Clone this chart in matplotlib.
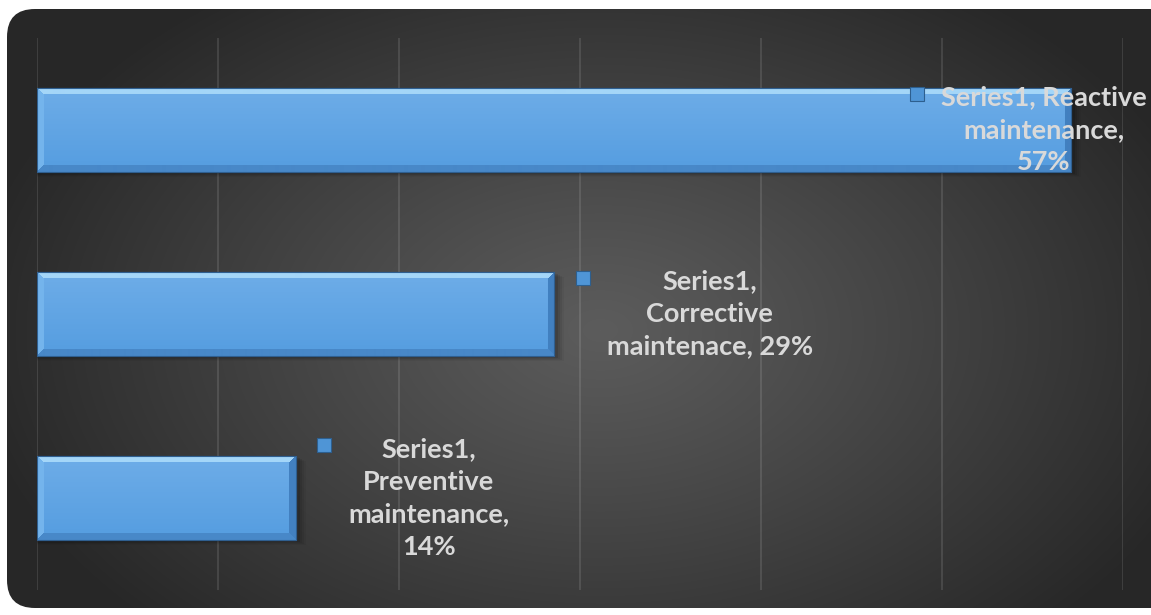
import numpy as np
import matplotlib.pyplot as plt
from matplotlib.patches import FancyBboxPatch

categories = ["Preventive\nmaintenance", "Corrective\nmaintenace", "Reactive\nmaintenance"]
shares = [0.1429, 0.2857, 0.5714]
series_name = "Series1"
label_texts = [
    "Series1,\nPreventive\nmaintenance,\n14%",
    "Series1,\nCorrective\nmaintenace, 29%",
    "Series1, Reactive\nmaintenance,\n57%",
]
# horizontal offset (points) of each label centre from the end of its bar
label_dx = [96, 112, -20]

W, H, DPI = 1151, 615, 100
fig = plt.figure(figsize=(W / DPI, H / DPI), dpi=DPI)
fig.patch.set_facecolor("white")

# rounded dark panel with a soft radial glow
bg = fig.add_axes([0, 0, 1, 1])
bg.set_xlim(0, W)
bg.set_ylim(H, 0)
bg.axis("off")
yy, xx = np.mgrid[0:H, 0:W]
r = np.sqrt(((xx - 600) / 640.0) ** 2 + ((yy - 330) / 420.0) ** 2)
shade = 0x5c - (0x5c - 0x27) * np.clip(r, 0, 1) ** 1.1
img = np.dstack([shade / 255.0] * 3)
panel = FancyBboxPatch((7 + 28, 9 + 28), W + 20 - 56, 599 - 56,
                       boxstyle="round,pad=28", facecolor="none", edgecolor="none")
bg.add_patch(panel)
im = bg.imshow(img, extent=(0, W, H, 0), interpolation="bilinear")
im.set_clip_path(panel)

ax = fig.add_axes([37 / W, 1 - 590 / H, (1123 - 37) / W, (590 - 38) / H])
ax.patch.set_alpha(0)
ax.set_xlim(0, 0.6)
ax.set_ylim(-0.5, 2.5)
for s in ax.spines.values():
    s.set_visible(False)
ax.set_xticks(np.arange(0, 0.61, 0.1))
ax.set_yticks([])
ax.tick_params(length=0, labelbottom=False)
ax.grid(axis="x", color="white", alpha=0.13, linewidth=1.2)
ax.set_axisbelow(True)

ypos = np.arange(len(categories))
bar_h = 0.46
bars = ax.barh(ypos, shares, height=bar_h, color="#5aa0e2",
               edgecolor="#2f5f90", linewidth=0.8, zorder=2)

px_per_x = (1123 - 37) / 0.6
px_per_y = (590 - 38) / 3.0


def bevel_image(wpx, hpx, b=7):
    yy, xx = np.mgrid[0:hpx, 0:wpx].astype(float)
    top = yy
    bot = hpx - 1 - yy
    left = xx
    right = wpx - 1 - xx
    face_top = np.array([0x6e, 0xad, 0xe8]) / 255.0
    face_bot = np.array([0x55, 0x9d, 0xe0]) / 255.0
    t = (yy / max(hpx - 1, 1))[..., None]
    out = face_top * (1 - t) + face_bot * t
    d = np.stack([top, bot, left, right])
    which = np.argmin(d, axis=0)
    near = np.min(d, axis=0) < b
    cols = [np.array([0xa4, 0xd6, 0xf8]) / 255.0,
            np.array([0x48, 0x88, 0xc8]) / 255.0,
            np.array([0x74, 0xb4, 0xec]) / 255.0,
            np.array([0x42, 0x80, 0xc0]) / 255.0]
    for k in range(4):
        m = near & (which == k)
        out[m] = cols[k]
    return out


for y, v, bar in zip(ypos, shares, bars):
    wpx = int(round(v * px_per_x))
    hpx = int(round(bar_h * px_per_y))
    # drop shadow under the bar
    for i, a in enumerate([0.10, 0.08, 0.06, 0.04]):
        off = (i + 2) / px_per_y
        ax.barh(y - off, v + 2 * off * px_per_y / px_per_x, height=bar_h,
                color="black", alpha=a, linewidth=0, zorder=1)
    bimg = ax.imshow(bevel_image(wpx, hpx),
                     extent=(0, v, y - bar_h / 2, y + bar_h / 2),
                     aspect="auto", interpolation="bilinear", zorder=3)
    bimg.set_clip_path(bar)
    ax.barh(y, v, height=bar_h, color="none", edgecolor="#2f5f90",
            linewidth=0.8, zorder=4)

ax.set_xlim(0, 0.6)
ax.set_ylim(-0.5, 2.5)

texts = []
for y, v, txt, dx in zip(ypos, shares, label_texts, label_dx):
    t = ax.annotate(txt, xy=(v, y), xytext=(dx, 0), textcoords="offset points",
                    ha="center", va="center", multialignment="center",
                    fontsize=19.5, fontweight="bold", family=["Lato", "DejaVu Sans"],
                    color="#d9d9d9", linespacing=1.42, zorder=6)
    texts.append(t)

fig.canvas.draw()
renderer = fig.canvas.get_renderer()
inv = ax.transData.inverted()
for t in texts:
    bb = t.get_window_extent(renderer)
    mx, my = inv.transform((bb.x0 - 24, bb.y1 - 8))
    ax.plot(mx, my, marker="s", markersize=9.5, color="#4f95d6",
            markeredgecolor="#2d5f8f", markeredgewidth=0.8, zorder=5,
            clip_on=False)

fig.savefig("out.png", dpi=DPI, facecolor=fig.get_facecolor())
